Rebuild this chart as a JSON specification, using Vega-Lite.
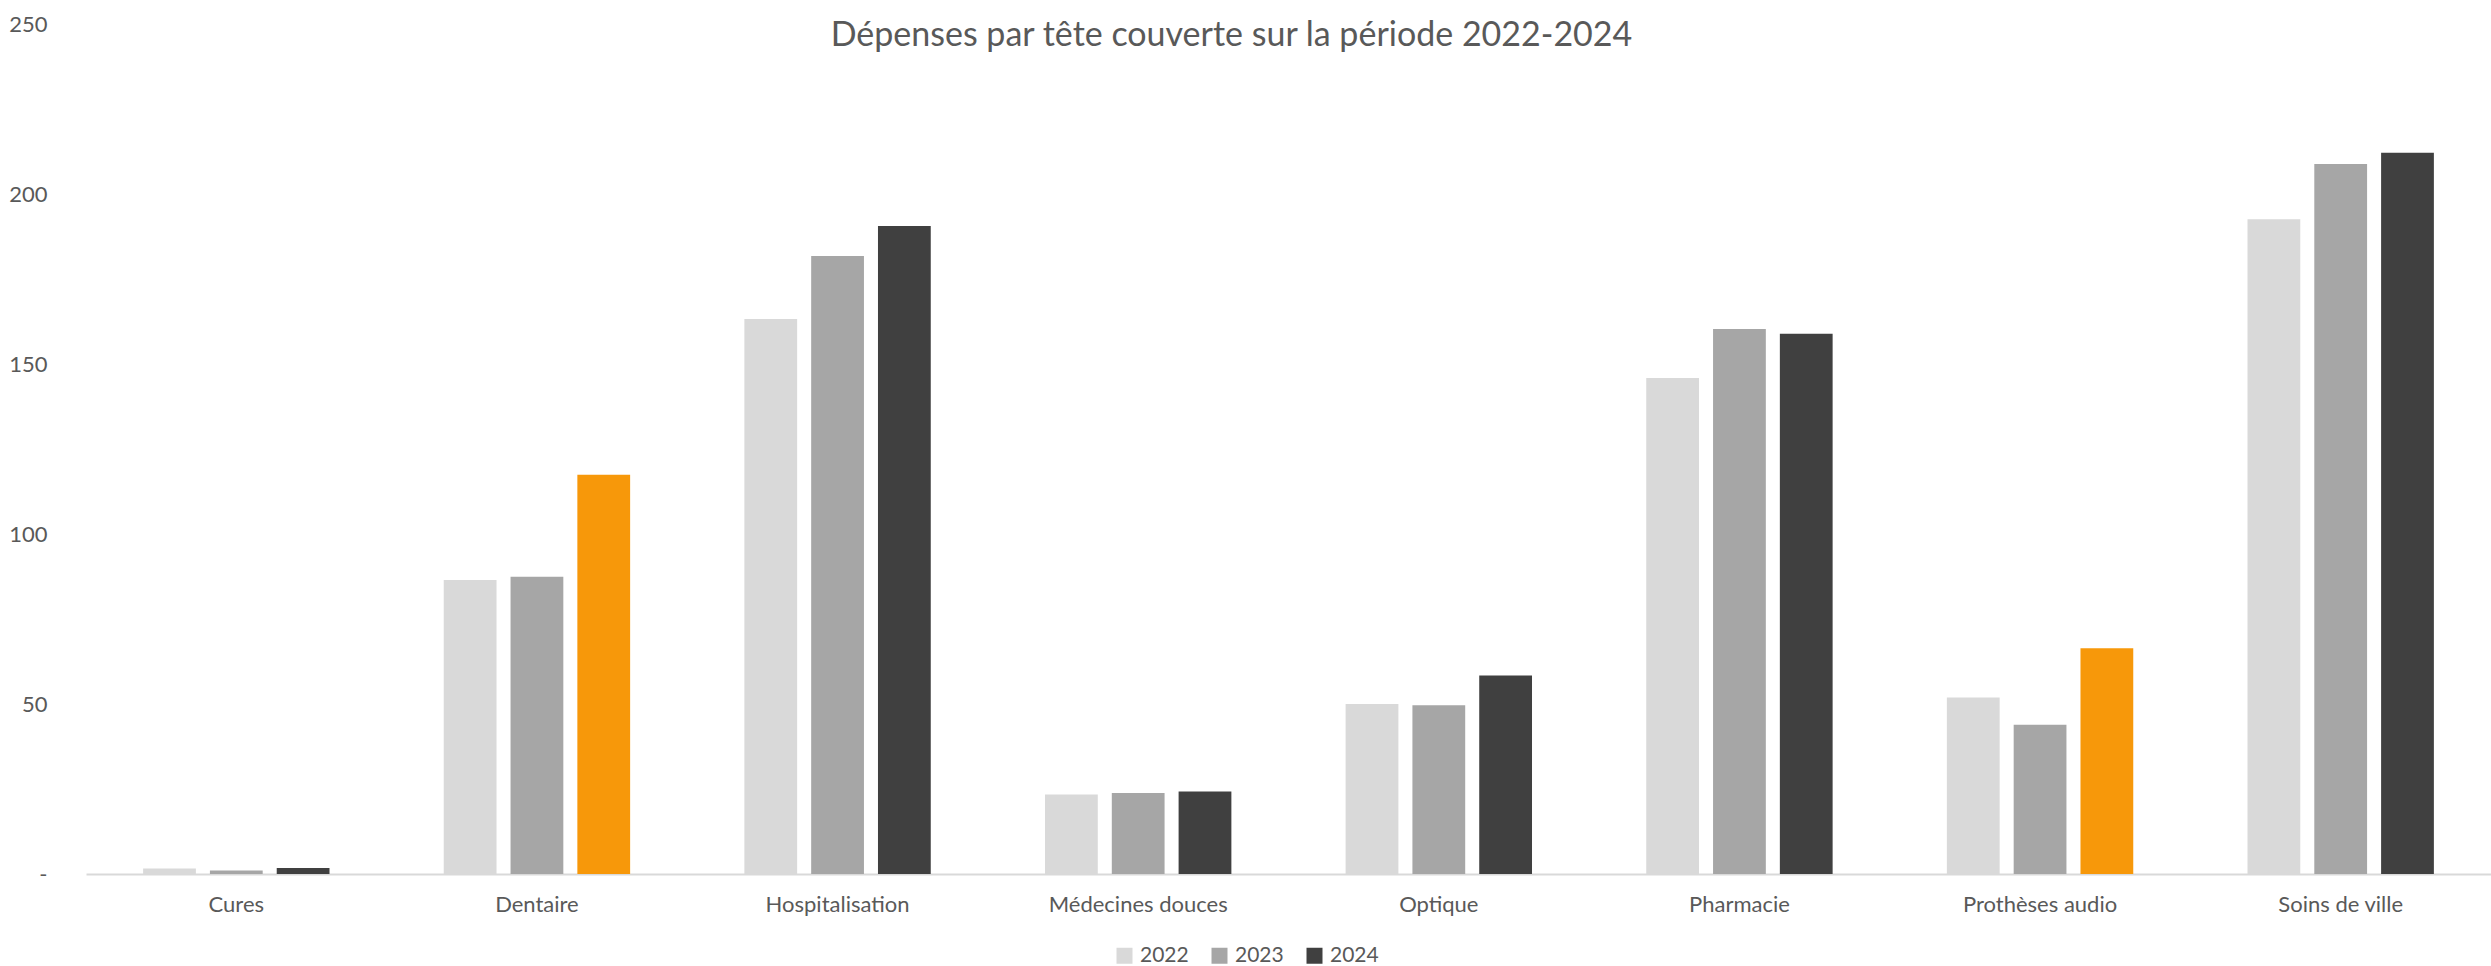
{
  "$schema": "https://vega.github.io/schema/vega-lite/v6.json",
  "width": 2405,
  "height": 850,
  "autosize": {"type": "none"},
  "padding": {"left": 86, "top": 24, "right": 0, "bottom": 92},
  "background": "white",
  "config": {"view": {"stroke": null}, "font": "Lato"},
  "title": {
    "text": "Dépenses par tête couverte sur la période 2022-2024",
    "fontSize": 34,
    "font": "Lato",
    "fontWeight": "normal",
    "color": "#595959",
    "anchor": "middle",
    "frame": "group",
    "baseline": "alphabetic",
    "offset": -67,
    "dx": -57
  },
  "data": {
    "values": [
      {"categorie": "Cures", "annee": "2022", "valeur": 1.6},
      {"categorie": "Cures", "annee": "2023", "valeur": 1.0},
      {"categorie": "Cures", "annee": "2024", "valeur": 1.8},
      {"categorie": "Dentaire", "annee": "2022", "valeur": 86.5},
      {"categorie": "Dentaire", "annee": "2023", "valeur": 87.4},
      {"categorie": "Dentaire", "annee": "2024", "valeur": 117.4},
      {"categorie": "Hospitalisation", "annee": "2022", "valeur": 163.2},
      {"categorie": "Hospitalisation", "annee": "2023", "valeur": 181.8},
      {"categorie": "Hospitalisation", "annee": "2024", "valeur": 190.6},
      {"categorie": "Médecines douces", "annee": "2022", "valeur": 23.4},
      {"categorie": "Médecines douces", "annee": "2023", "valeur": 23.8},
      {"categorie": "Médecines douces", "annee": "2024", "valeur": 24.3},
      {"categorie": "Optique", "annee": "2022", "valeur": 50.0},
      {"categorie": "Optique", "annee": "2023", "valeur": 49.6},
      {"categorie": "Optique", "annee": "2024", "valeur": 58.4},
      {"categorie": "Pharmacie", "annee": "2022", "valeur": 145.9},
      {"categorie": "Pharmacie", "annee": "2023", "valeur": 160.3},
      {"categorie": "Pharmacie", "annee": "2024", "valeur": 158.9},
      {"categorie": "Prothèses audio", "annee": "2022", "valeur": 51.9},
      {"categorie": "Prothèses audio", "annee": "2023", "valeur": 43.9},
      {"categorie": "Prothèses audio", "annee": "2024", "valeur": 66.4},
      {"categorie": "Soins de ville", "annee": "2022", "valeur": 192.6},
      {"categorie": "Soins de ville", "annee": "2023", "valeur": 208.8},
      {"categorie": "Soins de ville", "annee": "2024", "valeur": 212.1}
    ]
  },
  "mark": {"type": "bar"},
  "encoding": {
    "x": {
      "field": "categorie",
      "type": "nominal",
      "sort": null,
      "scale": {"paddingInner": 0.38, "paddingOuter": 0.19},
      "axis": {
        "title": null,
        "labelAngle": 0,
        "labelFontSize": 22,
        "labelFont": "Lato",
        "labelColor": "#595959",
        "labelPadding": 20,
        "ticks": false,
        "tickSize": 0,
        "domain": true,
        "domainColor": "#D9D9D9",
        "domainWidth": 2,
        "grid": false
      }
    },
    "xOffset": {
      "field": "annee",
      "type": "nominal",
      "scale": {"paddingInner": 0.21, "paddingOuter": 0}
    },
    "y": {
      "field": "valeur",
      "type": "quantitative",
      "scale": {"domain": [0, 250], "nice": false},
      "axis": {
        "title": null,
        "values": [0, 50, 100, 150, 200, 250],
        "labelExpr": "datum.value === 0 ? '-\u00a0\u00a0\u00a0' : datum.label",
        "labelFontSize": 22,
        "labelFont": "Lato",
        "labelColor": "#595959",
        "labelPadding": 39,
        "ticks": false,
        "tickSize": 0,
        "domain": false,
        "grid": false
      }
    },
    "color": {
      "condition": {
        "test": "(datum.categorie === 'Dentaire' || datum.categorie === 'Prothèses audio') && datum.annee === '2024'",
        "value": "#F7980A"
      },
      "field": "annee",
      "type": "nominal",
      "scale": {"domain": ["2022", "2023", "2024"], "range": ["#D9D9D9", "#A6A6A6", "#404040"]},
      "legend": {
        "title": null,
        "orient": "none",
        "legendX": 1028,
        "legendY": 921,
        "direction": "horizontal",
        "symbolType": "square",
        "symbolSize": 256,
        "symbolStrokeWidth": 0,
        "labelFontSize": 21,
        "labelFont": "Lato",
        "labelColor": "#595959",
        "labelOffset": 5,
        "columnPadding": 20
      }
    }
  }
}
